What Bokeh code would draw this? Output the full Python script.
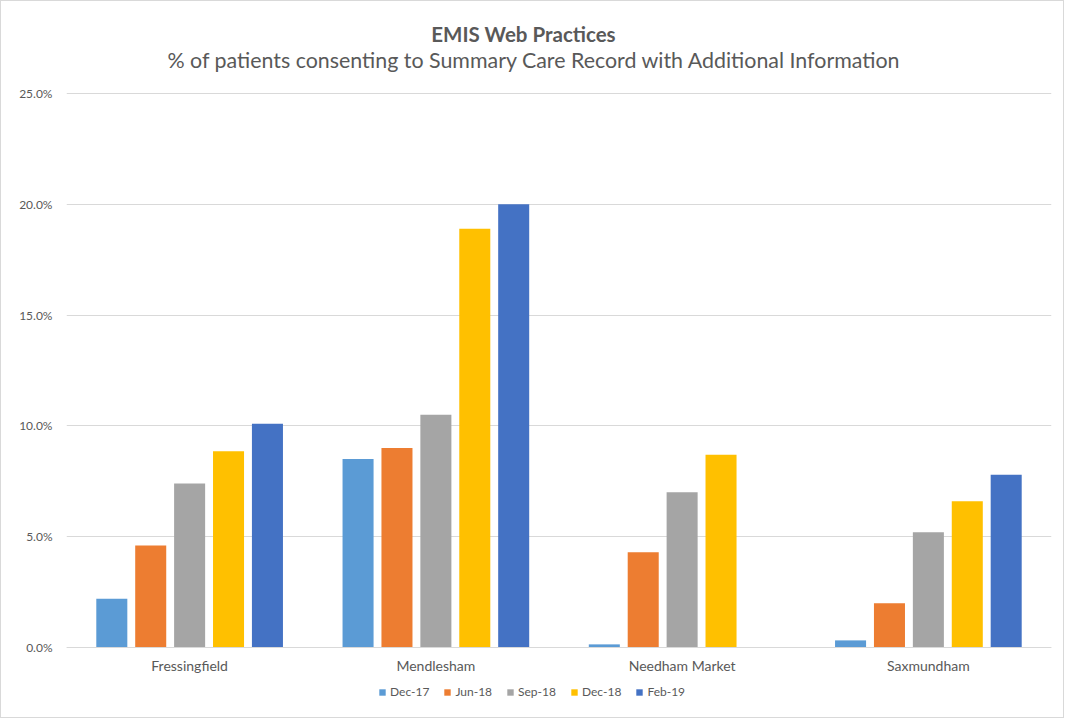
from bokeh.plotting import figure
from bokeh.models import FactorRange, FixedTicker, PrintfTickFormatter, Legend, LegendItem, Label
from bokeh.transform import dodge
from bokeh.embed import file_html
from bokeh.resources import INLINE

practices = ["Fressingfield", "Mendlesham", "Needham Market", "Saxmundham"]
periods = ["Dec-17", "Jun-18", "Sep-18", "Dec-18", "Feb-19"]
dec17 = [2.2, 8.5, 0.14, 0.32]
jun18 = [4.6, 9.0, 4.3, 2.0]
sep18 = [7.4, 10.5, 7.0, 5.2]
dec18 = [8.85, 18.9, 8.7, 6.6]
feb19 = [10.1, 20.0, 0.0, 7.8]
colors = ["#5B9BD5", "#ED7D31", "#A5A5A5", "#FFC000", "#4472C4"]
y_ticks = [0, 5, 10, 15, 20, 25]
title_text = "EMIS Web Practices"
subtitle_text = "% of patients consenting to Summary Care Record with Additional Information"

FONT = "Lato"
GREY = "#595959"

data = {"practice": practices, "Dec-17": dec17, "Jun-18": jun18,
        "Sep-18": sep18, "Dec-18": dec18, "Feb-19": feb19}

p = figure(x_range=FactorRange(*practices), y_range=(-3.25, 29.15),
           width=1064, height=718, output_backend="svg", toolbar_location=None,
           min_border_left=65, min_border_right=14, min_border_top=0, min_border_bottom=0)
p.styles = {"border": "1px solid #D9D9D9"}
p.outline_line_color = None

renderers = []
offsets = [-0.316, -0.158, 0.0, 0.158, 0.316]
for per, off, c in zip(periods, offsets, colors):
    r = p.vbar(x=dodge("practice", off, range=p.x_range), top=per, width=0.126,
               source=data, fill_color=c, line_color=None)
    renderers.append(r)

p.yaxis.ticker = FixedTicker(ticks=y_ticks)
p.yaxis.formatter = PrintfTickFormatter(format="%.1f%%")
p.yaxis.axis_line_color = None
p.yaxis.major_tick_line_color = None
p.yaxis.minor_tick_line_color = None
p.yaxis.major_label_text_font = FONT
p.yaxis.major_label_text_font_size = "12px"
p.yaxis.major_label_text_color = GREY
p.yaxis.major_label_standoff = 8

p.xaxis.fixed_location = 0
p.xaxis.axis_line_color = "#D9D9D9"
p.xaxis.major_tick_line_color = None
p.xaxis.minor_tick_line_color = None
p.xaxis.major_label_text_font = FONT
p.xaxis.major_label_text_font_size = "14px"
p.xaxis.major_label_text_color = GREY
p.xaxis.major_label_standoff = 4

p.xgrid.grid_line_color = None
p.ygrid.grid_line_color = "#D9D9D9"
p.ygrid.ticker = FixedTicker(ticks=y_ticks)

legend = Legend(items=[LegendItem(label=per, renderers=[r]) for per, r in zip(periods, renderers)],
                orientation="horizontal", location=(312, 20),
                label_text_font=FONT, label_text_font_size="12px", label_text_color=GREY,
                glyph_width=8, glyph_height=8, label_standoff=4, spacing=14,
                border_line_color=None, background_fill_alpha=0, padding=2, margin=0)
p.add_layout(legend, "center")

main = Label(x=457, y=686, x_units="screen", y_units="screen", text=title_text,
             text_align="center", text_baseline="middle", text_font=FONT,
             text_font_size="20.5px", text_font_style="bold", text_color=GREY)
sub = Label(x=468, y=660, x_units="screen", y_units="screen", text=subtitle_text,
            text_align="center", text_baseline="middle", text_font=FONT,
            text_font_size="21.4px", text_color=GREY)
p.add_layout(main)
p.add_layout(sub)

open("out.html", "w").write(file_html(p, INLINE))
